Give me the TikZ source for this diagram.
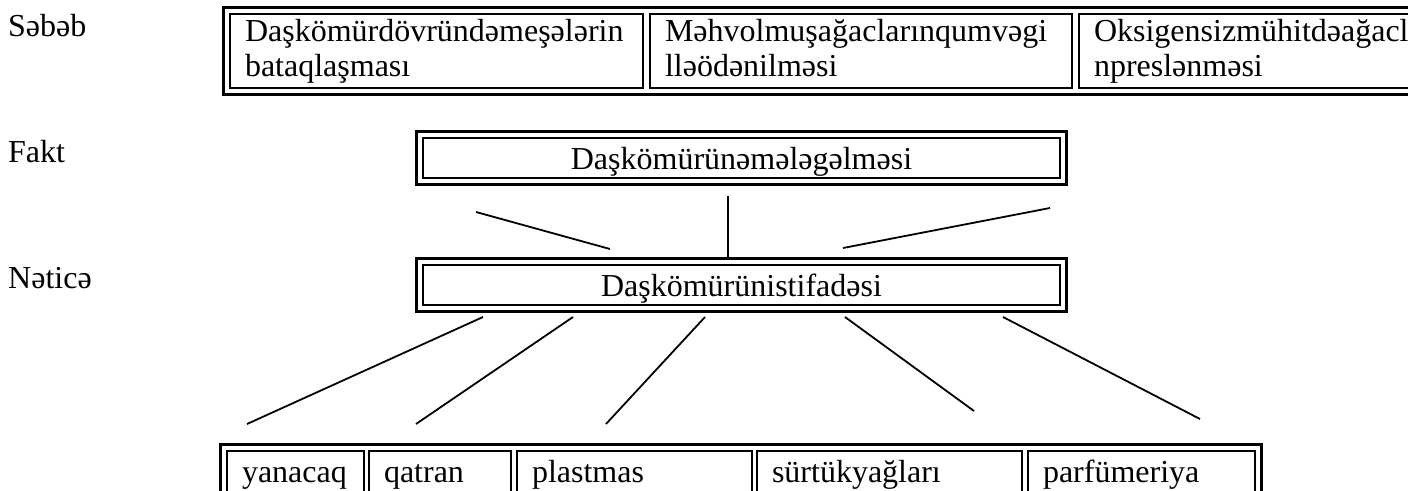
\documentclass[tikz,border=0pt]{standalone}
\usepackage{fontspec}
\setmainfont{Liberation Serif}
\usetikzlibrary{fit}
\hyphenpenalty=10000
\exhyphenpenalty=10000

\begin{document}
\begin{tikzpicture}[x=1pt, y=-1pt, font=\fontsize{32}{35}\selectfont,
    cell/.style={draw, line width=2.4pt, anchor=north west, outer sep=0pt, inner xsep=15pt},
    twoline/.style={cell, align=left, text height=23pt, text depth=43pt, inner ysep=4pt},
    oneline/.style={cell, align=center, inner xsep=0pt, text height=24pt, text depth=2pt, inner ysep=7pt},
    item/.style={cell, align=left, text height=28pt, text depth=10pt, inner ysep=3pt},
    frame/.style={draw, line width=2.4pt, inner sep=6.5pt},
    link/.style={line width=1.8pt},
    side/.style={anchor=base west, inner sep=0pt}]
                \useasboundingbox (0,0) rectangle (1408,490);
                \clip (0,0) rectangle (1408,490);

                \node[side] (lcause) at (8,36) {Səbəb};
                \node[side] (lfact) at (8,162) {Fakt};
                \node[side] (lresult) at (8,288) {Nəticə};

                \node[twoline, text width=383pt] (cause1) at (230,14) {Daşkömürdövründəmeşələrin\\bataqlaşması};
                \node[twoline, text width=392pt] (cause2) at (650,14) {Məhvolmuşağaclarınqumvəgi\\lləödənilməsi};
                \node[twoline, text width=400pt] (cause3) at (1079,14) {Oksigensizmühitdəağacl\\npreslənməsi};
                \node[frame, fit=(cause1)(cause3)] (causes) {};

                \node[oneline, minimum width=637pt] (fact) at (423,138) {Daşkömürünəmələgəlməsi};
                \node[frame, fit=(fact)] (factbox) {};

                \node[oneline, minimum width=637pt] (use) at (423,265) {Daşkömürünistifadəsi};
                \node[frame, fit=(use)] (usebox) {};

                \node[item, text width=107pt] (fuel) at (227,451) {yanacaq};
                \node[item, text width=112pt] (tar) at (369,451) {qatran};
                \node[item, text width=205pt] (plastic) at (517,451) {plastmas};
                \node[item, text width=235pt] (lube) at (757,451) {sürtükyağları};
                \node[item, text width=197pt] (perfume) at (1028,451) {parfümeriya};
                \node[frame, fit=(fuel)(perfume)] (uses) {};

                \coordinate (fl) at (476,212);
                \coordinate (ul) at (610,249);
                \coordinate (fm) at (728,196);
                \coordinate (um) at (728,258);
                \coordinate (fr) at (1050,208);
                \coordinate (ur) at (843,248);
                \draw[link] (fl) -- (ul);
                \draw[link] (fm) -- (um);
                \draw[link] (fr) -- (ur);

                \coordinate (u1) at (483,317);
                \coordinate (u2) at (573,317);
                \coordinate (u3) at (705,317);
                \coordinate (u4) at (845,317);
                \coordinate (u5) at (1003,317);
                \coordinate (e1) at (247,424);
                \coordinate (e2) at (416,424);
                \coordinate (e3) at (606,424);
                \coordinate (e4) at (974,411);
                \coordinate (e5) at (1200,419);
                \draw[link] (u1) -- (e1);
                \draw[link] (u2) -- (e2);
                \draw[link] (u3) -- (e3);
                \draw[link] (u4) -- (e4);
                \draw[link] (u5) -- (e5);
            \end{tikzpicture}
\end{document}
